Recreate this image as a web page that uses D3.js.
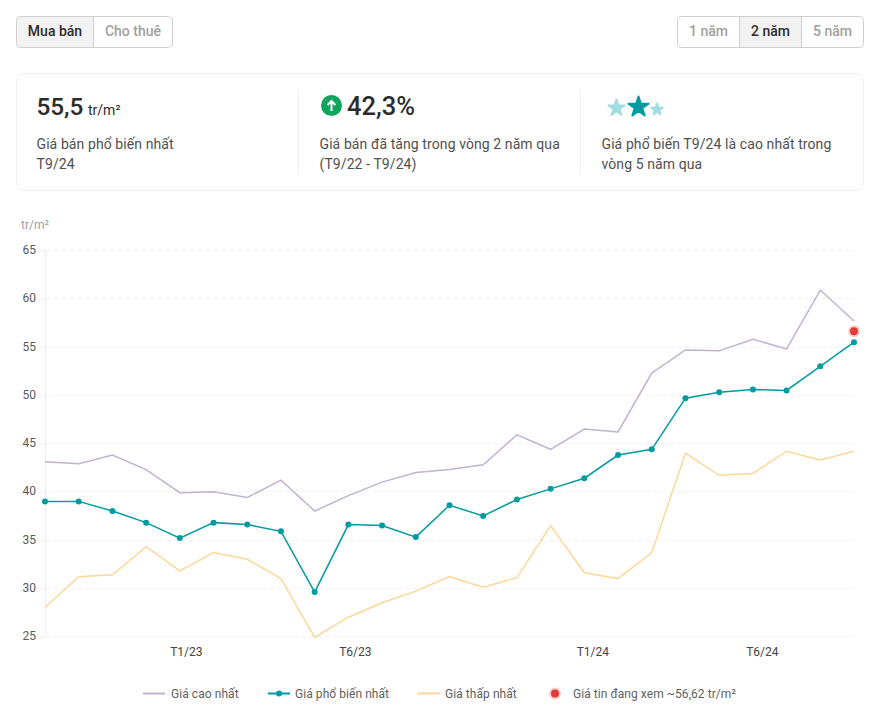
<!DOCTYPE html>
<html><head><meta charset="utf-8">
<script src="https://cdn.jsdelivr.net/npm/d3@7"></script>
<style>
html,body{margin:0;padding:0;background:#fff;overflow:hidden}
svg{display:block;font-family:Roboto,sans-serif}
</style></head><body><svg id="c" width="880" height="719"></svg>
<script>
const months=["T9/22","T10/22","T11/22","T12/22","T1/23","T2/23","T3/23","T4/23","T5/23","T6/23","T7/23","T8/23","T9/23","T10/23","T11/23","T12/23","T1/24","T2/24","T3/24","T4/24","T5/24","T6/24","T7/24","T8/24","T9/24"];
const highPrice=[43.1,42.9,43.8,42.3,39.9,40,39.4,41.2,38,39.6,41,42,42.3,42.8,45.9,44.4,46.5,46.2,52.3,54.7,54.6,55.8,54.8,60.9,57.7];
const typicalPrice=[39,39,38,36.8,35.2,36.8,36.6,35.9,29.6,36.6,36.5,35.3,38.6,37.5,39.2,40.3,41.4,43.8,44.4,49.7,50.3,50.6,50.5,53,55.5];
const lowPrice=[28,31.2,31.4,34.3,31.8,33.7,33,31,24.9,27,28.5,29.7,31.2,30.1,31.1,36.5,31.6,31,33.7,44,41.7,41.9,44.2,43.3,44.2];
const currentListing=56.62;
const yTicks=[25,30,35,40,45,50,55,60,65];
const xTickLabels=["T1/23","T6/23","T1/24","T6/24"];
const modeLabels=["Mua bán","Cho thuê"];
const rangeLabels=["1 năm","2 năm","5 năm"];
const legendLabels=["Giá cao nhất","Giá phổ biến nhất","Giá thấp nhất","Giá tin đang xem ~56,62 tr/m²"];

const C={high:"#c3b1d0",typ:"#009ba1",low:"#fbd89a",red:"#e53935",ink:"#2c2c2c",body:"#505050",mute:"#a0a0a0",line:"#cfcfcf",soft:"#f0f0f0"};
const svg=d3.select("#c");
function txt(x,y,s,size,fill,weight,anchor){return svg.append("text").attr("x",x).attr("y",y).text(s).attr("font-size",size).attr("fill",fill).attr("font-weight",weight||400).attr("text-anchor",anchor||"start");}

function segmented(x,widths,labels,active){
  const h=31,y=16.5,total=d3.sum(widths);
  const clipId="clip"+Math.round(x);
  svg.append("clipPath").attr("id",clipId).append("rect").attr("x",x).attr("y",y).attr("width",total).attr("height",h).attr("rx",4);
  let cx=x;
  labels.forEach((l,i)=>{
    if(i===active) svg.append("rect").attr("x",cx).attr("y",y).attr("width",widths[i]).attr("height",h).attr("fill","#f2f2f2").attr("clip-path",`url(#${clipId})`);
    if(i>0) svg.append("line").attr("x1",cx).attr("x2",cx).attr("y1",y).attr("y2",y+h).attr("stroke",C.line);
    txt(cx+widths[i]/2,36,l,14,i===active?C.ink:C.mute,500,"middle");
    cx+=widths[i];
  });
  svg.append("rect").attr("x",x).attr("y",y).attr("width",total).attr("height",h).attr("rx",4).attr("fill","none").attr("stroke",C.line);
}
segmented(16.5,[77,79],modeLabels,0);
segmented(677.5,[62,62,62],rangeLabels,1);

svg.append("rect").attr("x",16.5).attr("y",73.5).attr("width",847).attr("height",117).attr("rx",8).attr("fill","#fff").attr("stroke","#f0f0f0");
[298.5,580.5].forEach(x=>svg.append("line").attr("x1",x).attr("x2",x).attr("y1",90).attr("y2",174).attr("stroke","#f0f0f0"));

function bodyTxt(x,y,s){return txt(x,y,s,14,C.body).attr("letter-spacing",0.09);}
txt(36.5,115,"55,5",24.3,C.ink,500);
txt(88,115,"tr/m²",14,C.ink,400);
bodyTxt(36.5,149,"Giá bán phổ biến nhất");
bodyTxt(36.5,169,"T9/24");

svg.append("circle").attr("cx",331.5).attr("cy",105.5).attr("r",10.5).attr("fill","#0ea55d");
svg.append("path").attr("d","M331.5 111V101M327.6 105L331.5 101L335.4 105").attr("fill","none").attr("stroke","#fff").attr("stroke-width",2);
txt(347,115,"42,3%",25.5,C.ink,500);
bodyTxt(319.5,149,"Giá bán đã tăng trong vòng 2 năm qua");
bodyTxt(319.5,169,"(T9/22 - T9/24)");

const star=d3.symbol().type(d3.symbolStar);
[[616.5,108,80,"#a1dde0"],[638.5,107,125,C.typ],[657,109.5,40,"#a1dde0"]].forEach(([x,y,s,f])=>{
  svg.append("path").attr("d",star.size(s)()).attr("transform",`translate(${x},${y})`).attr("fill",f).attr("stroke",f).attr("stroke-width",2).attr("stroke-linejoin","round");
});
bodyTxt(601.5,149,"Giá phổ biến T9/24 là cao nhất trong");
bodyTxt(601.5,169,"vòng 5 năm qua");

// chart
const x=d3.scalePoint().domain(months).range([45,854]);
const y=d3.scaleLinear().domain([25,65]).range([636.5,250.5]);
txt(21,229,"tr/m²",12,C.mute);

const yAxis=svg.append("g").attr("transform","translate(45,0)").call(d3.axisLeft(y).tickValues(yTicks).tickSize(0).tickPadding(9));
yAxis.select(".domain").attr("stroke","#eeeeee").attr("d","M0.5,250V637");
yAxis.selectAll("text").attr("font-size",12).attr("font-family","Roboto").attr("fill","#5a5a5a").attr("y",-0.7);
yAxis.selectAll(".tick").append("line").attr("x1",-5).attr("x2",0).attr("stroke","#f0f0f0");
svg.append("g").selectAll("line").data(yTicks).join("line")
  .attr("x1",45).attr("x2",854).attr("y1",d=>Math.floor(y(d))+0.5).attr("y2",d=>Math.floor(y(d))+0.5)
  .attr("stroke","#f1f1f1").attr("stroke-dasharray","5 3");

const xLabelNudge=[6,6.5,8,9];
const xAxis=svg.append("g").attr("transform","translate(0,637)").call(d3.axisBottom(x).tickValues(xTickLabels).tickSize(0).tickPadding(10));
xAxis.select(".domain").remove();
xAxis.selectAll("text").attr("font-size",12).attr("font-family","Roboto").attr("fill","#444").attr("dx",(d,i)=>xLabelNudge[i]);

const line=d3.line().x((d,i)=>x(months[i])).y(d=>y(d));
[[highPrice,C.high],[lowPrice,C.low],[typicalPrice,C.typ]].forEach(([d,c])=>{
  svg.append("path").attr("d",line(d)).attr("fill","none").attr("stroke",c).attr("stroke-width",1.5);
});
svg.append("g").selectAll("circle").data(typicalPrice).join("circle")
  .attr("cx",(d,i)=>x(months[i])).attr("cy",d=>y(d)).attr("r",3).attr("fill",C.typ);
const lastM=months[months.length-1];
svg.append("circle").attr("cx",x(lastM)).attr("cy",y(currentListing)).attr("r",6).attr("fill",C.red).attr("opacity",.25);
svg.append("circle").attr("cx",x(lastM)).attr("cy",y(currentListing)).attr("r",4).attr("fill",C.red);

// legend
const ly=693.5;
const lg=[[143,171,C.high,false],[268,295,C.typ,true],[418,445,C.low,false]];
lg.forEach(([x0,tx,c,dot],i)=>{
  svg.append("line").attr("x1",x0).attr("x2",x0+22).attr("y1",ly).attr("y2",ly).attr("stroke",c).attr("stroke-width",2);
  if(dot) svg.append("circle").attr("cx",x0+11).attr("cy",ly).attr("r",3).attr("fill",c);
  txt(tx,ly+4.5,legendLabels[i],12,"#5f5f5f").attr("letter-spacing",0.06);
});
svg.append("circle").attr("cx",555).attr("cy",ly).attr("r",6).attr("fill",C.red).attr("opacity",.25);
svg.append("circle").attr("cx",555).attr("cy",ly).attr("r",4).attr("fill",C.red);
txt(573,ly+4.5,legendLabels[3],12,"#5f5f5f").attr("letter-spacing",0.06);
</script></body></html>
